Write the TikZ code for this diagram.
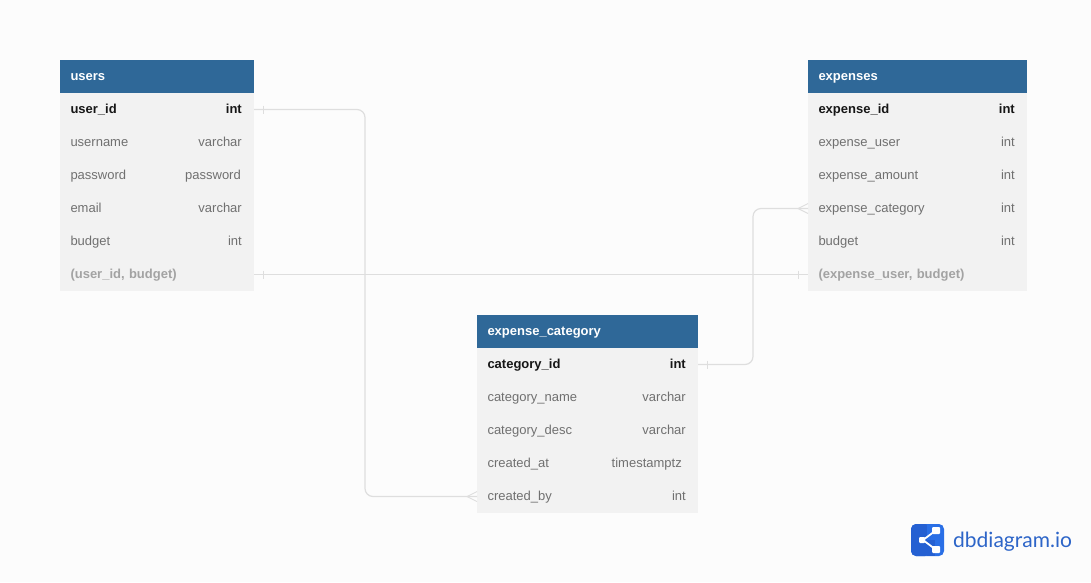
\documentclass[tikz,border=0pt]{standalone}
\usepackage{fontspec}
\setmainfont{Liberation Sans}
\newfontfamily\logofont{Lato}
\definecolor{pagebg}{HTML}{FCFCFC}
\definecolor{headblue}{HTML}{2F6898}
\definecolor{rowbg}{HTML}{F2F2F2}
\definecolor{plaintxt}{HTML}{707070}
\definecolor{idxtxt}{HTML}{A3A3A3}
\definecolor{keytxt}{HTML}{161616}
\definecolor{linkgray}{HTML}{DEDEDE}
\definecolor{logoblue}{HTML}{2A6FE6}
\definecolor{logodark}{HTML}{2560D2}
\definecolor{logotxt}{HTML}{2D65C8}
\tikzset{
  cellbox/.style={anchor=north west,inner xsep=10.5pt,inner ysep=0pt,outer sep=0pt,
    minimum height=33pt,text height=10pt,text depth=2pt,align=left,font=\fontsize{13}{15}\selectfont},
  headbox/.style={cellbox,fill=headblue,text=white,font=\fontsize{13}{15}\selectfont\bfseries},
  keyrow/.style={cellbox,fill=rowbg,text=keytxt,font=\fontsize{13}{15}\selectfont\bfseries},
  plainrow/.style={cellbox,fill=rowbg,text=plaintxt},
  idxrow/.style={cellbox,fill=rowbg,text=idxtxt,font=\fontsize{13}{15}\selectfont\bfseries},
  typekeyrow/.style={anchor=east,inner sep=0pt,text=keytxt,font=\fontsize{13}{15}\selectfont\bfseries,text height=10pt,text depth=2pt},
  typeplainrow/.style={anchor=east,inner sep=0pt,text=plaintxt,font=\fontsize{13}{15}\selectfont,text height=10pt,text depth=2pt},
  link/.style={draw=linkgray,line width=1.2pt,rounded corners=8pt},
  linkmark/.style={draw=linkgray,line width=0.9pt},
}
\begin{document}
\begin{tikzpicture}[x=1pt,y=-1pt]
  \fill[pagebg] (0,0) rectangle (1091,582);
  \useasboundingbox (0,0) rectangle (1091,582);

  % users
  \node[headbox,text width=173pt] (users) at (60,60) {users};
  \foreach \row/\look/\field/\kind/\gap in {
      1/keyrow/user\_id/int/12,
      2/plainrow/username/varchar/12,
      3/plainrow/password/password/13,
      4/plainrow/email/varchar/12,
      5/plainrow/budget/int/12}
  {
    \node[\look,text width=173pt] (users\row) at (60,{93+33*(\row-1)}) {\field};
    \node[type\look] at ([xshift=-\gap pt]users\row.east) {\kind};
  };
  \node[idxrow,text width=173pt] (users6) at (60,258) {(user\_id, budget)};

  % expenses
  \node[headbox,text width=198pt] (expenses) at (808,60) {expenses};
  \foreach \row/\look/\field/\kind in {
      1/keyrow/expense\_id/int,
      2/plainrow/expense\_user/int,
      3/plainrow/expense\_amount/int,
      4/plainrow/expense\_category/int,
      5/plainrow/budget/int}
  {
    \node[\look,text width=198pt] (expenses\row) at (808,{93+33*(\row-1)}) {\field};
    \node[type\look] at ([xshift=-12pt]expenses\row.east) {\kind};
  };
  \node[idxrow,text width=198pt] (expenses6) at (808,258) {(expense\_user, budget)};

  % expense_category
  \node[headbox,text width=200pt] (category) at (477,315) {expense\_category};
  \foreach \row/\look/\field/\kind/\gap in {
      1/keyrow/category\_id/int/12,
      2/plainrow/category\_name/varchar/12,
      3/plainrow/category\_desc/varchar/12,
      4/plainrow/created\_at/timestamptz/16,
      5/plainrow/created\_by/int/12}
  {
    \node[\look,text width=200pt] (category\row) at (477,{348+33*(\row-1)}) {\field};
    \node[type\look] at ([xshift=-\gap pt]category\row.east) {\kind};
  };

  % links
  \coordinate (userbend) at (365,0);
  \coordinate (catbend) at (753,0);
  \draw[link] (users1.east) -- (users1.east -| userbend) -- (userbend |- category5.west) -- (category5.west);
  \draw[link] (users6.east) -- (expenses6.west);
  \draw[link] (category1.east) -- (category1.east -| catbend) -- (catbend |- expenses4.west) -- (expenses4.west);

  % one ends
  \foreach \name/\side/\off in {users1/east/9,users6/east/9,category1/east/9,expenses6/west/-10}
    \draw[linkmark] ([shift={(\off,-4)}]\name.\side) -- ([shift={(\off,4)}]\name.\side);
  % many ends
  \foreach \name in {category5,expenses4}
    \draw[linkmark] ([yshift=-5pt]\name.west) -- ([xshift=-10pt]\name.west) -- ([yshift=5pt]\name.west);

  % logo
  \fill[logoblue,rounded corners=5pt] (911,524) rectangle (944,556);
  \fill[logodark,rounded corners=5pt] (911,524) rectangle (930,556);
  \fill[logoblue] (927,524) rectangle (930,540);
  \fill[logodark] (927,540) rectangle (935,556);
  \draw[white,line width=1.8pt] (935,531) -- (923,540) -- (935,549);
  \fill[white,rounded corners=1pt] (919,537) rectangle (925,543);
  \fill[white,rounded corners=1pt] (932,527) rectangle (940,534);
  \fill[white,rounded corners=1pt] (932,546) rectangle (940,553);
  \node[anchor=base west,inner sep=0pt,text=logotxt,font=\logofont\fontsize{21}{24}\selectfont] (logotext) at (953,547) {dbdiagram.io};
\end{tikzpicture}
\end{document}
